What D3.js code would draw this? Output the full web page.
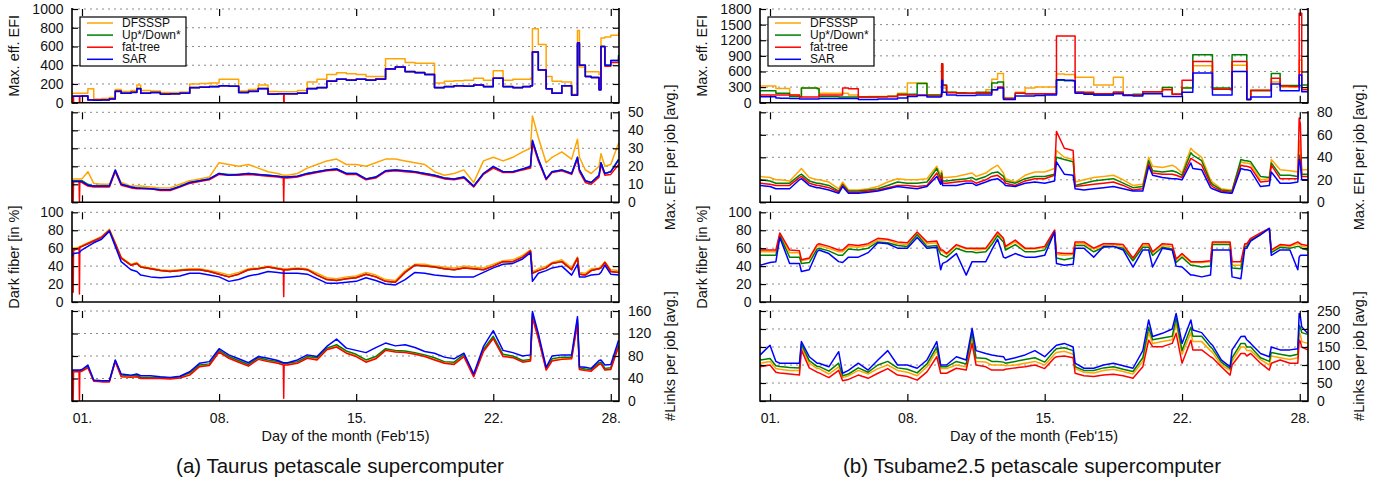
<!DOCTYPE html>
<html><head><meta charset="utf-8">
<script src="https://cdn.jsdelivr.net/npm/d3@7"></script>
<style>
body{margin:0;background:#fff;}
svg text{font-family:"Liberation Sans",Arial,Helvetica,sans-serif;fill:#111;}
</style></head><body>
<svg id="c" width="1385" height="482"></svg>
<script>
// ---------- shared categories ----------
const seriesNames = ["DFSSSP", "Up*/Down*", "fat-tree", "SAR"];
const seriesColors = ["#ffa500", "#008000", "#ff0000", "#0000ff"];
const dayTicks = [1, 8, 15, 22, 28];
const dayTickLabels = ["01.", "08.", "15.", "22.", "28."];
const darkTicks = [0, 20, 40, 60, 80, 100];

// ---------- (a) Taurus ----------
const tauDays = [0.5,0.53,0.55,0.57,0.85, 0.87,0.89,1,1.3,1.6, 2,2.4,2.7,3,3.5, 3.8,4,4.5,5,5.5, 6,6.5,7,7.5,8, 8.5,9,9.5,10,10.5, 11,11.28,11.3,11.32,11.5, 12,12.5,13,13.5,14, 14.5,15,15.5,16,16.5, 17,17.5,18,18.5,19, 19.5,20,20.5,21,21.5, 22,22.5,23,23.5,23.9, 24,24.3,24.7,25,25.5, 26,26.3,26.4,26.7,27, 27.4,27.5,27.7,28,28.4];
const tauEfiTicks = [0, 200, 400, 600, 800, 1000];
const tauJobTicks = [0, 10, 20, 30, 40, 50];
const tauLinkTicks = [0, 40, 80, 120, 160];

const tauEfiDFSSSP = [100,100,100,100,100, 100,100,100,150,40, 45,55,140,120,130, 190,130,125,110,110, 115,200,205,210,250, 250,125,140,190,120, 118,118,118,118,118, 130,220,250,300,320, 310,300,280,280,470, 470,430,420,420,210, 230,235,240,260,240, 340,240,250,250,260, 790,620,280,230,220, 90,770,380,330,330, 300,690,700,720,750];
const tauEfiUpDown = [70,70,70,70,70, 70,70,72,32,28, 32,42,125,100,112, 152,102,110,92,96, 100,162,166,172,180, 176,110,122,152,92, 96,96,96,96,96, 102,152,162,232,250, 242,250,242,252,362, 382,332,322,300,162, 172,182,176,190,172, 262,172,162,172,180, 540,350,150,100,180, 80,630,400,280,270, 140,600,400,450,500];
const tauEfiFatTree = [70,70,0,70,70, 0,70,72,32,28, 32,42,125,100,112, 152,102,110,92,96, 100,162,166,172,180, 176,110,122,152,92, 96,96,0,96,96, 102,152,162,232,250, 242,250,242,252,362, 382,332,322,300,162, 172,182,176,190,172, 262,172,162,172,180, 540,350,150,100,180, 80,630,400,280,270, 140,600,390,430,480];
const tauEfiSAR = [70,70,70,70,70, 70,70,72,30,25, 30,40,120,100,110, 150,100,110,90,95, 100,160,165,170,180, 175,110,120,150,90, 95,95,95,95,95, 100,150,160,230,250, 240,250,240,250,360, 380,330,320,300,160, 170,180,175,190,170, 260,170,160,170,180, 540,350,150,100,180, 80,640,400,280,270, 135,600,400,450,510];

const tauJobDFSSSP = [13,13,13,13,13, 13,13,13,17,10.5, 10,10,18,11,9, 9,9,8.5,8,8, 10,12,13,14,22, 21,20,21,19,17, 16,15,15,15,15, 16,19,21,23,24, 21,21,20,22,24, 24,23,22,21,17, 15,16,18,11,23, 25,23,25,28,30, 48,36,22,25,28, 24,35,25,18,16, 20,27,20,21,33];
const tauJobUpDown = [12,12,12,12,12, 12,12,12,10,9, 9,9,17.5,10,8.5, 8,8,7.5,7,7, 9,11,12,13,16, 15.5,15.5,16,15.5,15, 14.5,14,14,14,14, 14.5,16,17,18,18.5, 16,16,13,14,17.5, 18,17.5,17,16,15, 13.5,13,14,9,16, 19.5,17,17,18.5,19.5, 34,24,13,17,18, 16,25,18,12,11, 15,22,16,17,24];
const tauJobFatTree = [11.5,11.5,0,11.5,11.5, 0,11.5,11,9,8.5, 8.5,8.5,17,9.5,8, 7.5,7.5,7.5,6.5,6.5, 8.5,10.5,11.5,12.5,15.5, 15,15,15.5,15,14.5, 14,13.5,0,13.5,13.5, 14,15.5,16.5,17.5,18, 15.5,15.5,12.5,13.5,17, 17.5,17,16.5,15.5,14.5, 13,12.5,13.5,8.5,15.5, 19,16.5,16.5,18,19, 33,23,12.5,16.5,17.5, 15.5,24,17,11,10, 14,21,15,15.5,21];
const tauJobSAR = [11.5,11.5,11.5,11.5,11.5, 11.5,11.5,11.5,9.5,9, 9,9,18,10,8.5, 8,7.8,7.5,7,7, 8.7,11,12,13,16, 15,15.5,16,15.5,15, 14.5,14,14,14,14, 14.5,16,17,18,18.5, 16,16,13,14,17.5, 18,17.5,17,16,15, 13.5,13,14,9,16, 20,17,17,18.5,20, 34.5,24,13,17,18, 16,25,18,12,11, 15,22,16,17,23.5];

const tauDarkDFSSSP = [60,60,60,60,61, 61,62,63,66,69, 73,81,66,50,42, 44,40,38,36,35, 36,37,37,35,33, 30,33,37,38,40, 38,37,37,37,37, 38,37,32,27,26, 28,29,33,30,25, 24,35,42,42,40, 39,38,40,39,38, 42,46,47,52,58, 34,37,40,44,47, 38,50,33,32,37, 38,40,45,36,35];
const tauDarkUpDown = [58,58,58,58,60, 60,61,62,65,68, 72,80,65,49,41, 43,39,37,35,34, 35,36,36,34,31, 28,31,36,37,39, 37,36,36,36,36, 37,36,30,25,24, 26,27,31,28,23, 22,33,41,40,39, 37,36,38,37,36, 40,45,45,50,57, 32,35,38,43,45, 36,49,31,30,35, 37,38,44,34,33];
const tauDarkFatTree = [58,58,11,58,60, 9,61,62,65,68, 72,80,65,49,41, 43,39,37,35,34, 35,36,36,34,31, 28,31,36,37,39, 37,36,6,36,36, 37,36,30,25,24, 26,27,31,28,23, 22,33,41,40,39, 37,36,38,37,36, 40,45,45,50,57, 32,35,38,43,45, 36,49,31,30,35, 37,38,44,34,33];
const tauDarkSAR = [50,52,54,54,55, 55,56,58,62,66, 70,79,62,45,36, 34,30,28,27,28, 29,32,32,30,28, 23,25,29,31,34, 33,32,32,32,32, 32,31,26,21,21, 22,23,27,24,20, 19,25,33,32,30, 29,28,28,28,33, 38,42,43,48,55, 23,32,35,38,40, 30,42,28,28,30, 31,33,41,31,30];

const tauLinkDFSSSP = [53,53,53,53,53, 53,53,54,60,36, 35,35,71,44,43, 44,41,41,41,40, 42,48,62,64,88, 77,70,63,75,71, 68,65,65,65,65, 68,77,75,92,97, 86,80,70,76,91, 88,87,84,80,74, 68,66,80,45,90, 112,80,78,70,72, 150,112,56,72,75, 76,140,57,55,54, 66,67,56,57,98];
const tauLinkUpDown = [54,54,54,54,54, 54,54,55,62,37, 36,36,72,46,45, 46,42,42,42,41, 43,50,64,66,90, 79,72,65,77,73, 70,67,67,67,67, 70,79,77,94,100, 89,83,73,79,93, 90,89,86,82,77, 70,69,83,46,92, 115,83,80,72,74, 155,115,58,75,78, 78,145,59,57,56, 68,69,58,59,100];
const tauLinkFatTree = [52,52,0,52,52, 0,52,53,59,35, 34,34,70,43,42, 43,40,40,40,39, 41,46,61,63,87, 76,69,62,74,70, 67,64,5,64,64, 67,76,73,91,96, 85,79,69,75,90, 87,86,83,79,73, 67,65,79,43,88, 111,79,77,69,71, 148,111,55,71,74, 75,138,56,54,53, 65,66,55,56,97];
const tauLinkSAR = [55,55,55,55,55, 55,55,56,64,37, 36,36,73,48,46, 48,45,45,43,42, 44,52,67,70,93, 82,75,68,79,76, 72,68,68,68,68, 73,82,79,97,110, 94,90,86,95,103, 98,100,95,88,85, 78,75,85,48,97, 125,90,86,80,82, 159,120,60,80,82, 82,150,61,60,58, 72,73,64,65,108];

// ---------- (b) Tsubame2.5 ----------
const tsuDays = [0.5,1,1.3,1.5,2, 2.5,2.6,3,3.4,3.5, 4,4.5,4.7,5,5.5, 6,6.5,7,7.5,8, 8.5,9,9.5,9.7,9.75, 9.8,10,10.5,11,11.3, 11.5,12,12.3,12.6,12.9, 13,13.5,14,14.5,15, 15.5,15.6,16,16.45,16.55, 17,17.5,18,18.5,19, 19.5,20,20.3,20.5,21, 21.5,21.7,22,22.45,22.55, 23,23.45,23.55,24,24.45, 24.55,25,25.2,25.3,25.5, 26,26.45,26.55,27,27.5, 27.9,27.97,28.03,28.1,28.4];
const tsuEfiTicks = [0, 300, 600, 900, 1200, 1500, 1800];
const tsuJobTicks = [0, 20, 40, 60, 80];
const tsuLinkTicks = [0, 50, 100, 150, 200, 250];

const tsuEfiDFSSSP = [320,320,275,275,150, 120,280,280,280,180, 180,180,180,150,110, 120,120,130,180,380, 380,150,150,160,700, 280,200,190,180,180, 180,250,450,560,100, 90,200,280,300,300, 300,550,540,540,490, 490,340,340,490,150, 150,210,210,210,290, 160,160,290,290,710, 710,710,270,260,260, 720,720,720,60,240, 240,240,400,300,300, 300,820,820,260,260];
const tsuEfiUpDown = [230,230,180,180,120, 115,280,280,270,120, 120,110,110,110,110, 110,115,120,160,160, 370,150,150,160,750, 340,200,190,180,180, 200,200,380,400,80, 80,180,170,170,170, 170,430,420,420,200, 170,150,150,200,150, 160,210,210,210,290, 160,160,280,280,920, 920,920,280,280,270, 920,920,920,60,230, 230,230,560,330,330, 330,330,330,340,340];
const tsuEfiFatTree = [150,150,150,150,150, 110,110,110,110,150, 150,150,280,270,110, 110,115,120,150,150, 150,130,130,150,750, 330,190,180,180,180, 180,180,250,300,80, 80,180,170,170,170, 170,1280,1280,1280,200, 200,170,170,200,150, 150,210,210,210,250, 160,160,430,430,790, 790,790,260,260,250, 790,790,790,60,240, 240,240,470,320,310, 310,1720,1720,250,250];
const tsuEfiSAR = [115,115,90,85,80, 70,70,70,70,80, 80,80,80,80,60, 60,70,70,90,120, 140,110,110,120,430, 200,150,140,140,140, 150,150,250,280,60, 60,130,130,140,150, 150,440,430,420,180, 160,150,150,170,140, 130,170,170,170,120, 120,120,200,200,570, 570,570,150,150,150, 600,600,600,60,110, 110,110,360,230,230, 230,530,530,210,210];

const tsuJobDFSSSP = [23,22,20,20,19, 28,30,22,20,20, 18,12,18,11,11, 12,14,18,21,20, 20,21,32,24,28, 22,22,23,25,26, 23,26,30,33,26, 21,18,24,27,27, 30,46,40,38,18, 20,22,23,24,20, 15,16,40,32,31, 33,31,26,48,46, 40,20,18,12,11, 11,36,35,35,34, 20,21,38,29,28, 27,55,45,29,29];
const tsuJobUpDown = [20,19,17,17,17, 24,25,19,17,17, 15,10,16,10,10, 11,12,15,18,17, 17,18,30,21,26, 19,19,20,21,22, 20,23,26,27,23, 19,17,21,23,23, 25,40,38,36,15, 17,19,20,21,17, 13,14,37,28,27, 28,27,24,44,42, 37,18,16,11,10, 10,38,37,37,36, 23,22,35,24,24, 23,42,38,25,25];
const tsuJobFatTree = [17,16,15,15,15, 22,23,17,15,15, 13,9,15,9,9, 10,11,13,15,15, 14,15,26,18,24, 17,17,18,19,19, 17,20,23,24,20, 17,15,19,21,21, 24,63,48,46,14, 15,16,17,18,15, 11,12,34,26,25, 25,24,22,39,38, 33,16,14,10,9, 9,33,32,32,31, 18,19,33,21,21, 21,75,70,23,23];
const tsuJobSAR = [15,14,12,12,12, 20,21,15,13,13, 11,8,14,8,8, 9,10,12,14,13, 12,14,23,16,20, 15,15,15,17,17, 15,18,20,21,17, 15,14,17,18,17, 19,36,25,24,12, 11,12,13,14,12, 10,10,32,24,22, 21,21,20,35,30, 29,13,12,9,8, 8,30,29,29,28, 14,15,27,17,17, 18,38,35,20,20];

const tsuDarkDFSSSP = [56,56,56,75,55, 55,46,48,62,63, 60,56,56,62,61, 63,69,69,65,64, 76,65,66,57,57, 56,53,63,59,59, 58,59,67,76,70, 61,67,59,59,61, 79,53,52,53,65, 65,59,63,64,62, 48,63,63,55,63, 62,47,53,44,44, 44,45,66,66,66, 41,41,64,64,70, 76,82,57,63,62, 65,65,64,62,61];
const tsuDarkUpDown = [52,52,52,74,50, 50,43,44,59,60, 57,52,52,59,58, 60,67,66,63,62, 75,62,63,53,53, 52,50,60,56,56, 55,56,64,74,67, 58,64,56,56,58, 78,49,47,49,63, 63,56,61,62,60, 46,61,61,52,61, 59,44,50,41,41, 39,40,64,64,64, 38,37,62,62,69, 75,82,55,61,60, 62,62,61,60,58];
const tsuDarkFatTree = [58,58,58,77,58, 57,47,49,64,65, 62,58,58,64,63, 65,71,70,67,66, 78,67,68,58,58, 58,54,64,60,60, 60,60,69,78,71, 62,69,60,60,62, 80,55,54,54,67, 67,60,65,65,64, 49,65,65,56,65, 64,48,54,45,45, 45,46,67,67,67, 45,45,65,65,71, 77,82,58,64,63, 67,66,65,64,63];
const tsuDarkSAR = [41,44,45,72,43, 43,34,36,56,58, 54,45,44,50,50, 55,66,65,60,60, 72,60,61,36,40, 43,45,54,30,45, 45,45,58,70,50, 49,54,50,50,52, 78,43,41,42,60, 60,50,62,62,58, 39,58,58,39,60, 58,40,39,30,30, 28,30,58,58,58, 28,26,60,60,68, 75,82,52,58,58, 36,50,52,52,52];

const tsuLinkDFSSSP = [105,110,90,88,85, 85,150,105,90,90, 75,95,65,70,85, 75,90,100,85,80, 70,95,140,90,90, 90,90,100,95,175, 110,108,100,100,100, 98,100,105,110,100, 130,135,138,130,90, 80,78,85,88,82, 75,110,190,160,165, 170,215,130,190,165, 165,140,135,100,85, 110,150,150,140,140, 115,100,125,120,115, 120,190,185,165,160];
const tsuLinkUpDown = [114,118,98,96,93, 92,158,112,96,96, 83,105,70,75,92, 80,100,110,92,88, 78,103,150,95,95, 95,95,110,103,190, 120,118,110,110,108, 105,110,115,120,108, 140,145,148,140,95, 85,85,92,95,88, 82,120,205,170,175, 180,230,140,205,180, 180,150,145,108,90, 120,160,160,150,150, 120,110,135,130,125, 130,210,205,190,185];
const tsuLinkFatTree = [95,100,80,78,75, 72,142,92,80,78, 65,85,56,60,72, 63,77,90,72,68, 58,81,123,77,77, 77,77,91,86,160, 100,95,86,86,86, 88,92,95,100,90, 120,123,125,120,77, 70,68,72,74,70, 63,95,169,151,151, 160,188,105,169,142, 142,123,120,95,72, 100,132,132,125,132, 105,86,105,114,105, 105,169,165,150,142];
const tsuLinkSAR = [128,155,110,105,105, 105,165,123,105,105, 95,137,77,85,105, 86,114,140,100,100, 91,114,165,100,100, 100,100,123,114,202, 140,132,128,125,123, 114,120,128,140,123, 150,155,160,150,105, 91,91,100,105,98, 91,140,225,179,188, 200,243,160,225,197, 190,160,155,114,95, 142,179,180,170,160, 132,123,150,142,142, 145,243,235,206,188];

// ---------- layout ----------
const rowBands = [[9, 102.7], [112.3, 202.3], [212.3, 302], [311, 401]];
const panels = [
  { x0: 72, x1: 619, days: tauDays, caption: "(a) Taurus petascale supercomputer",
    rows: [
      { ticks: tauEfiTicks, side: "left", title: "Max. eff. EFI", step: true, series: [tauEfiDFSSSP, tauEfiUpDown, tauEfiFatTree, tauEfiSAR] },
      { ticks: tauJobTicks, side: "right", title: "Max. EFI per job [avg.]", series: [tauJobDFSSSP, tauJobUpDown, tauJobFatTree, tauJobSAR] },
      { ticks: darkTicks, side: "left", title: "Dark fiber [in %]", series: [tauDarkDFSSSP, tauDarkUpDown, tauDarkFatTree, tauDarkSAR] },
      { ticks: tauLinkTicks, side: "right", title: "#Links per job [avg.]", series: [tauLinkDFSSSP, tauLinkUpDown, tauLinkFatTree, tauLinkSAR] }
    ] },
  { x0: 760, x1: 1308, days: tsuDays, caption: "(b) Tsubame2.5 petascale supercomputer",
    rows: [
      { ticks: tsuEfiTicks, side: "left", title: "Max. eff. EFI", step: true, series: [tsuEfiDFSSSP, tsuEfiUpDown, tsuEfiFatTree, tsuEfiSAR] },
      { ticks: tsuJobTicks, side: "right", title: "Max. EFI per job [avg.]", series: [tsuJobDFSSSP, tsuJobUpDown, tsuJobFatTree, tsuJobSAR] },
      { ticks: darkTicks, side: "left", title: "Dark fiber [in %]", series: [tsuDarkDFSSSP, tsuDarkUpDown, tsuDarkFatTree, tsuDarkSAR] },
      { ticks: tsuLinkTicks, side: "right", title: "#Links per job [avg.]", series: [tsuLinkDFSSSP, tsuLinkUpDown, tsuLinkFatTree, tsuLinkSAR] }
    ] }
];

const svg = d3.select("#c");
const defs = svg.append("defs");

panels.forEach((p, pi) => {
  const x = d3.scaleLinear().domain([0.49, 28.42]).range([p.x0, p.x1]);
  const g = svg.append("g");

  p.rows.forEach((r, ri) => {
    const [yt, yb] = rowBands[ri];
    const y = d3.scaleLinear().domain([0, d3.max(r.ticks)]).range([yb, yt]);
    const rg = g.append("g");

    // grid
    rg.selectAll("line.grid").data(r.ticks.filter(t => t > 0)).join("line")
      .attr("x1", p.x0).attr("x2", p.x1)
      .attr("y1", d => y(d)).attr("y2", d => y(d))
      .attr("stroke", "#8a8a8a").attr("stroke-width", 1).attr("stroke-dasharray", "2,4");

    // clip
    const cid = "clip" + pi + "_" + ri;
    defs.append("clipPath").attr("id", cid).append("rect")
      .attr("x", p.x0).attr("y", yt - 1).attr("width", p.x1 - p.x0).attr("height", yb - yt + 1);

    const lg = rg.append("g").attr("clip-path", "url(#" + cid + ")");
    r.series.forEach((vals, si) => {
      const line = d3.line().x((d, i) => x(p.days[i])).y(d => y(d))
        .curve(r.step ? d3.curveStepAfter : d3.curveLinear);
      lg.append("path").datum(vals)
        .attr("d", line)
        .attr("fill", "none")
        .attr("stroke", seriesColors[si])
        .attr("stroke-width", 1.5)
        .attr("stroke-linejoin", "round");
    });

    // y axes: ticks inward on both sides
    const leftAxis = d3.axisLeft(y).tickValues(r.ticks).tickSizeInner(-6).tickSizeOuter(0).tickPadding(8.5)
      .tickFormat(r.side === "left" ? d3.format("d") : () => "");
    const rightAxis = d3.axisRight(y).tickValues(r.ticks).tickSizeInner(-6).tickSizeOuter(0).tickPadding(9)
      .tickFormat(r.side === "right" ? d3.format("d") : () => "");
    const la = rg.append("g").attr("transform", `translate(${p.x0},0)`).call(leftAxis);
    const ra = rg.append("g").attr("transform", `translate(${p.x1},0)`).call(rightAxis);
    [la, ra].forEach(a => {
      a.select(".domain").remove();
      a.selectAll("line").attr("stroke", "#000").attr("stroke-width", 1.2);
      a.selectAll("text").style("font-size", "14px").attr("fill", "#111")
        .style("font-family", '"Liberation Sans",Arial,sans-serif');
    });

    // x ticks bottom (inward) and top (inward)
    const bottomAxis = d3.axisBottom(x).tickValues(dayTicks).tickSizeInner(-7).tickSizeOuter(0).tickPadding(12)
      .tickFormat((d, i) => ri === 3 ? dayTickLabels[i] : "");
    const topAxis = d3.axisTop(x).tickValues(dayTicks).tickSizeInner(-7).tickSizeOuter(0).tickFormat(() => "");
    const ba = rg.append("g").attr("transform", `translate(0,${yb})`).call(bottomAxis);
    const ta = rg.append("g").attr("transform", `translate(0,${yt})`).call(topAxis);
    [ba, ta].forEach(a => {
      a.select(".domain").remove();
      a.selectAll("line").attr("stroke", "#000").attr("stroke-width", 1.2);
      a.selectAll("text").style("font-size", "14px").attr("fill", "#111")
        .style("font-family", '"Liberation Sans",Arial,sans-serif');
    });

    // borders: left, right, bottom
    rg.append("path")
      .attr("d", `M${p.x0},${yt - 1}V${yb}H${p.x1}V${yt - 1}`)
      .attr("fill", "none").attr("stroke", "#000").attr("stroke-width", 1.6);

    // axis title
    const tx = r.side === "left" ? p.x0 - 58.5 : p.x1 + 51;
    rg.append("text")
      .attr("transform", `translate(${tx},${(yt + yb) / 2}) rotate(-90)`)
      .attr("text-anchor", "middle").attr("dominant-baseline", "central")
      .style("font-size", "14.5px")
      .text(r.title);

    // legend in the first row
    if (ri === 0) {
      const lx = p.x0 + 8, ly = 17;
      const leg = rg.append("g");
      leg.append("rect").attr("x", lx).attr("y", ly).attr("width", 106).attr("height", 49)
        .attr("fill", "#fff").attr("stroke", "#000").attr("stroke-width", 1.2);
      seriesNames.forEach((n, si) => {
        const yy = ly + 6 + si * 12.1;
        leg.append("line").attr("x1", lx + 7).attr("x2", lx + 33).attr("y1", yy).attr("y2", yy)
          .attr("stroke", seriesColors[si]).attr("stroke-width", 1.5);
        leg.append("text").attr("x", lx + 42).attr("y", yy).attr("dominant-baseline", "central")
          .style("font-size", "12px").text(n);
      });
    }
  });

  // x axis title and caption
  g.append("text").attr("x", (p.x0 + p.x1) / 2).attr("y", 441).attr("text-anchor", "middle")
    .style("font-size", "14.5px").text("Day of the month (Feb'15)");
  g.append("text").attr("x", pi === 0 ? 340 : 1032).attr("y", 473).attr("text-anchor", "middle")
    .style("font-size", "20.5px").text(p.caption);
});
</script>
</body></html>
